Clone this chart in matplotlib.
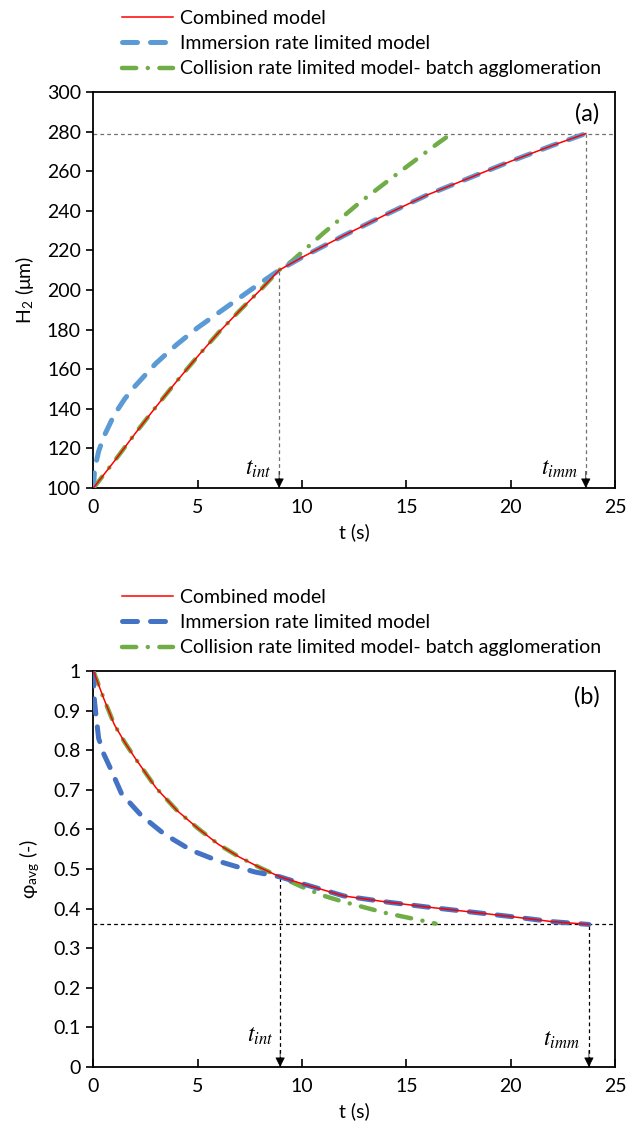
import matplotlib
matplotlib.use('Agg')
import matplotlib.pyplot as plt
from matplotlib.ticker import FuncFormatter

plt.rcParams['font.family'] = ['Lato', 'DejaVu Sans']
plt.rcParams['mathtext.fontset'] = 'stix'

# ---- panel (a): H2 vs t ----
t_comb_a = [0, 1, 2, 3, 4, 5, 6, 7, 8, 8.9, 10, 12, 14, 16, 18, 20, 22, 23.6]
h_comb = [100, 113.5, 127.5, 141, 154, 166.5, 178.5, 189.5, 200, 210,
          216.5, 227.5, 238, 248, 256.5, 265, 273, 279]

t_imm_a = [0, 0.05, 0.1, 0.25, 0.5, 1, 1.5, 2, 3, 4, 5, 6, 7, 8, 8.9,
           10, 12, 14, 16, 18, 20, 22, 23.6]
h_imm = [100, 108, 111.5, 118.5, 126, 137, 145, 151.5, 163, 172.5, 181, 188.5,
         196, 203.5, 210, 216.5, 227.5, 238, 248, 256.5, 265, 273, 279]

t_col_a = [0, 1, 2, 3, 4, 5, 6, 7, 8, 8.9, 9.5, 11, 12.8, 14.6, 16.5, 16.9]
h_col = [100, 113.5, 127.5, 141, 154, 166.5, 178.5, 189.5, 200, 210,
         214.5, 228.5, 244.5, 259, 274, 277]

t_int_a, h_int = 8.9, 210
t_imm_end_a, h_end = 23.6, 279

# ---- panel (b): phi_avg vs t ----
t_comb_b = [0, 0.5, 1, 1.5, 2, 3, 4, 5, 6, 7, 8, 8.95,
            10, 12, 14, 16, 18, 20, 22, 23.75]
phi_comb = [1.0, 0.93, 0.865, 0.82, 0.78, 0.705, 0.648, 0.603, 0.562, 0.53, 0.503, 0.48,
            0.463, 0.432, 0.417, 0.404, 0.392, 0.38, 0.367, 0.36]

t_imm_b = [0, 0.02, 0.05, 0.1, 0.25, 0.5, 0.8, 1.35, 2.3, 3.4, 4.7, 6.1, 7.7, 8.95,
           10, 12, 14, 16, 18, 20, 22, 23.75]
phi_imm = [1.0, 0.955, 0.925, 0.9, 0.83, 0.79, 0.756, 0.69, 0.635, 0.588, 0.547, 0.518, 0.493, 0.48,
           0.463, 0.432, 0.417, 0.404, 0.392, 0.38, 0.367, 0.36]

t_col_b = [0, 0.5, 1, 1.5, 2, 3, 4, 5, 6, 7, 8, 8.95,
           10, 11, 12, 13, 14, 15, 16, 16.4]
phi_col = [1.0, 0.93, 0.865, 0.82, 0.78, 0.705, 0.648, 0.603, 0.562, 0.53, 0.503, 0.48,
           0.455, 0.433, 0.417, 0.403, 0.389, 0.378, 0.367, 0.362]

t_int_b, phi_int = 8.95, 0.48
t_imm_end_b, phi_end = 23.75, 0.36

labels = ['Combined model', 'Immersion rate limited model',
          'Collision rate limited model- batch agglomeration']

W, H = 629, 1126
fig = plt.figure(figsize=(W / 100, H / 100), dpi=100)
ax1 = fig.add_axes([93.4 / W, 1 - 488 / H, 521.6 / W, 396 / H])
ax2 = fig.add_axes([93.4 / W, 1 - 1067 / H, 521.6 / W, 396 / H])

red = '#FF0000'
green = '#70AD47'


def draw(ax, tc, yc, ti, yi, tg, yg, blue, guide, t_int, y_int, t_end, y_end, ymin, ymax):
    ax.plot(tc, yc, color=red, lw=1.1, zorder=5, label=labels[0])
    ax.plot(ti, yi, color=blue, lw=3.6, dashes=(3, 2.6), dash_capstyle='round',
            zorder=4, label=labels[1])
    ax.plot(tg, yg, color=green, lw=3.2, dashes=(3.2, 2.6, 0.01, 2.6), dash_capstyle='round',
            zorder=3, label=labels[2])
    ax.axhline(y_end, color=guide, lw=0.9, dashes=(3, 2.5), zorder=2)
    for tx in (t_int, t_end):
        ytop = y_int if tx == t_int else y_end
        ax.plot([tx, tx], [ymin, ytop], color=guide, lw=0.9, dashes=(3, 2.5), zorder=2)
        ax.annotate('', xy=(tx, ymin), xytext=(0, 12), textcoords='offset points',
                    arrowprops=dict(arrowstyle='-|>', color='black', lw=0.5,
                                    mutation_scale=15, shrinkA=0, shrinkB=0))
    ax.set_xlim(0, 25)
    ax.set_ylim(ymin, ymax)
    ax.set_xticks(range(0, 26, 5))
    ax.tick_params(axis='x', direction='in', length=6, width=1.2, labelsize=14, pad=8)
    ax.tick_params(axis='y', direction='out', length=5, width=1.2, labelsize=14, pad=4)
    for s in ax.spines.values():
        s.set_linewidth(1.3)
    ax.set_xlabel('t (s)', fontsize=14, labelpad=5)


draw(ax1, t_comb_a, h_comb, t_imm_a, h_imm, t_col_a, h_col, '#5B9BD5', '#707070',
     t_int_a, h_int, t_imm_end_a, h_end, 100, 300)
ax1.set_yticks(range(100, 301, 20))
ax1.set_ylabel(r'H$_\mathregular{2}$ ($\mathregular{\mu}$m)', fontsize=14, labelpad=8)
ax1.text(0.97, 0.945, '(a)', transform=ax1.transAxes, fontsize=17, ha='right', va='center')
ax1.text(8.55, 104, r'$t_{int}$', fontsize=17, ha='right', va='bottom')
ax1.text(23.2, 104, r'$t_{imm}$', fontsize=17, ha='right', va='bottom')

draw(ax2, t_comb_b, phi_comb, t_imm_b, phi_imm, t_col_b, phi_col, '#4472C4', 'black',
     t_int_b, phi_int, t_imm_end_b, phi_end, 0, 1)
ax2.set_yticks([i / 10 for i in range(11)])
ax2.yaxis.set_major_formatter(FuncFormatter(lambda v, p: f'{v:g}'))
ax2.set_ylabel(r'φ$_\mathregular{avg}$ (-)', fontsize=14, labelpad=8)
ax2.text(0.97, 0.935, '(b)', transform=ax2.transAxes, fontsize=17, ha='right', va='center')
ax2.text(8.6, 0.05, r'$t_{int}$', fontsize=17, ha='right', va='bottom')
ax2.text(23.3, 0.04, r'$t_{imm}$', fontsize=17, ha='right', va='bottom')

for ax, ytop in ((ax1, 10), (ax2, 589)):
    h, l = ax.get_legend_handles_labels()
    fig.legend(h, l, loc='upper left', bbox_to_anchor=(122 / W, 1 - ytop / H),
               frameon=False, fontsize=14, handlelength=2.6, handletextpad=0.36,
               labelspacing=0.42, borderpad=0, borderaxespad=0)

fig.savefig('out.png', dpi=100)
